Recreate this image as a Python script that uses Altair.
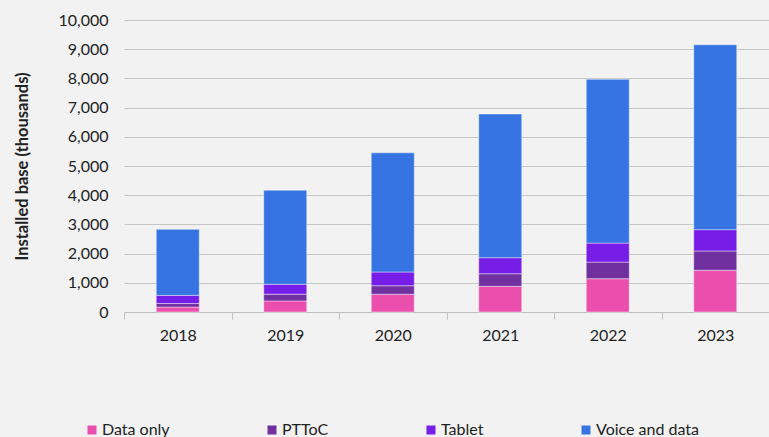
import altair as alt
import pandas as pd

years = ["2018", "2019", "2020", "2021", "2022", "2023"]
series = ["Data only", "PTToC", "Tablet", "Voice and data"]
data_only = [170, 380, 610, 880, 1140, 1430]
pttoc = [120, 230, 290, 430, 570, 660]
tablet = [280, 340, 470, 550, 650, 730]
voice_data = [2260, 3220, 4080, 4920, 5610, 6330]
colors = ["#EA4FAD", "#7030A0", "#771DE8", "#3574E2"]

rows = []
for i, (name, vals) in enumerate(zip(series, [data_only, pttoc, tablet, voice_data])):
    for y, v in zip(years, vals):
        rows.append({"year": y, "series": name, "value": v, "idx": i})
df = pd.DataFrame(rows)

FONT = "Lato"

chart = alt.Chart(df).mark_bar(
    size=43, stroke="#ffffff", strokeWidth=0.7, strokeOpacity=0.6
).encode(
    x=alt.X("year:N", sort=years, title=None,
            scale=alt.Scale(paddingInner=0, paddingOuter=0),
            axis=alt.Axis(labelAngle=0, tickBand="extent", tickSize=7,
                          domainColor="#c0c0c0", tickColor="#c0c0c0",
                          labelPadding=8, labelFontSize=16, labelColor="#222222",
                          labelFont=FONT, grid=False)),
    y=alt.Y("value:Q", stack="zero",
            scale=alt.Scale(domain=[0, 10000], nice=False),
            axis=alt.Axis(values=list(range(0, 10001, 1000)), format=",.0f",
                          title="Installed base (thousands)",
                          titleFont=FONT, titleFontSize=16.5, titleFontWeight="bold",
                          titleColor="#222222", titleX=-102, titleY=146,
                          titleAlign="center", titleBaseline="middle", titleAngle=-90,
                          labelFont=FONT, labelFontSize=16, labelColor="#222222",
                          labelPadding=16, domain=False, ticks=False,
                          gridColor="#c6c6c6", gridWidth=1)),
    color=alt.Color("series:N", sort=series,
                    scale=alt.Scale(domain=series, range=colors),
                    legend=alt.Legend(title=None, orient="none", direction="horizontal",
                                      legendX=-40, legendY=402, columns=4,
                                      gridAlign="none", columnPadding=94,
                                      symbolType="square", symbolSize=81,
                                      symbolStrokeWidth=0, labelOffset=2,
                                      labelFont=FONT, labelFontSize=16,
                                      labelColor="#222222", labelLimit=200)),
    order=alt.Order("idx:Q", sort="ascending"),
).properties(
    width=645, height=292,
    background="#f2f2f2",
    padding={"left": 124, "top": 20, "right": 0, "bottom": 125},
    autosize=alt.AutoSizeParams(type="none"),
).configure_view(stroke=None)

chart.save("out.html", embed_options={"renderer": "svg", "actions": False})
